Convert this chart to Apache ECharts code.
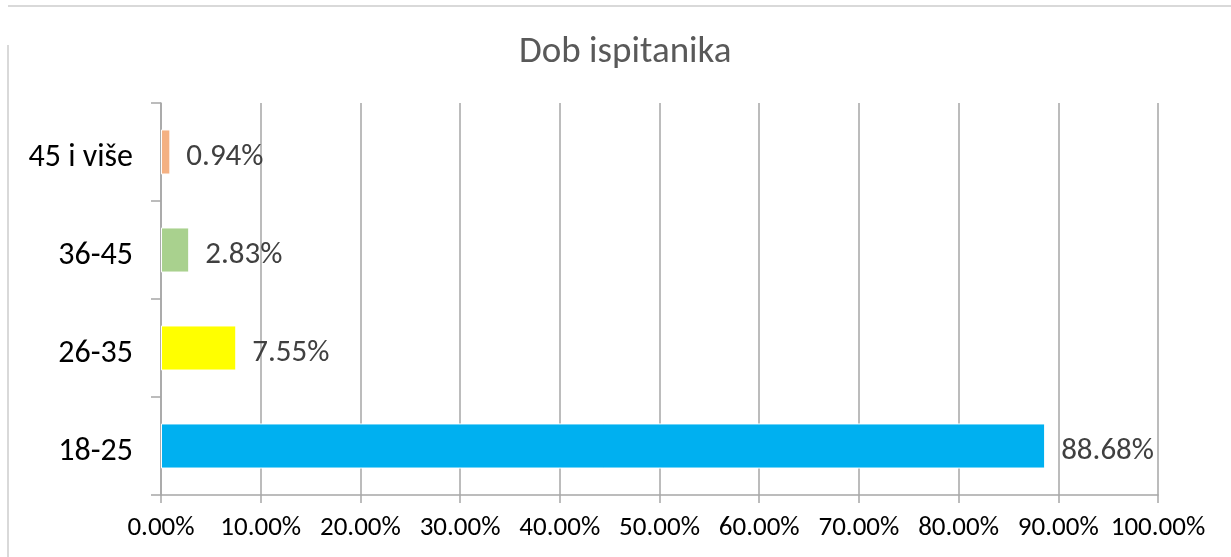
<!DOCTYPE html>
<html>
<head>
<meta charset="utf-8">
<script src="https://cdn.jsdelivr.net/npm/echarts@6/dist/echarts.min.js"></script>
<style>
html,body{margin:0;padding:0;background:#fff;}
#c{width:1231px;height:557px;}
</style>
</head>
<body>
<div id="c"></div>
<script>
const categories = ['18-25', '26-35', '36-45', '45 i više'];
const values = [88.68, 7.55, 2.83, 0.94];
const colors = ['#00B0F0', '#FFFF00', '#A9D18E', '#F4B183'];
const titleText = 'Dob ispitanika';
const FONT = 'Carlito, Calibri, Lato, sans-serif';

const chart = echarts.init(document.getElementById('c'));
chart.setOption({
  backgroundColor: '#ffffff',
  animation: false,
  title: {
    text: titleText,
    left: 514,
    top: 29,
    textStyle: { fontFamily: FONT, fontSize: 37, fontWeight: 'normal', color: '#595959' }
  },
  graphic: [
    { type: 'line', shape: { x1: 8, y1: 6, x2: 1231, y2: 6 }, style: { stroke: '#D9D9D9', lineWidth: 2 } },
    { type: 'line', shape: { x1: 8, y1: 45, x2: 8, y2: 557 }, style: { stroke: '#D9D9D9', lineWidth: 2 } }
  ],
  grid: { left: 161, right: 73, top: 103, bottom: 62 },
  xAxis: {
    type: 'value',
    min: 0, max: 100, interval: 10,
    axisLine: { show: true, lineStyle: { color: '#A6A6A6', width: 1.5 } },
    axisTick: { show: true, length: 8, lineStyle: { color: '#A6A6A6', width: 1.5 } },
    splitLine: { show: true, lineStyle: { color: '#A6A6A6', width: 1.5 } },
    axisLabel: {
      formatter: v => v.toFixed(2) + '%',
      fontFamily: FONT, fontSize: 27, color: '#000', margin: 20
    }
  },
  yAxis: {
    type: 'category',
    data: categories,
    axisLine: { show: true, lineStyle: { color: '#A6A6A6', width: 1.5 } },
    axisTick: { show: true, length: 10, lineStyle: { color: '#A6A6A6', width: 1.5 } },
    axisLabel: {
      margin: 28,
      formatter: v => '{a|' + v + '}',
      rich: { a: { fontFamily: FONT, fontSize: 32, color: '#000', padding: [12, 0, 0, 0] } }
    }
  },
  series: [{
    type: 'bar',
    barWidth: '46%',
    data: values.map((v, i) => ({ value: v, itemStyle: { color: colors[i], borderColor: '#fff', borderWidth: 1 } })),
    label: {
      show: true, position: 'right', distance: 16, offset: [0, 5],
      formatter: p => p.value.toFixed(2) + '%',
      fontFamily: FONT, fontSize: 31, color: '#404040'
    }
  }]
});
</script>
</body>
</html>
